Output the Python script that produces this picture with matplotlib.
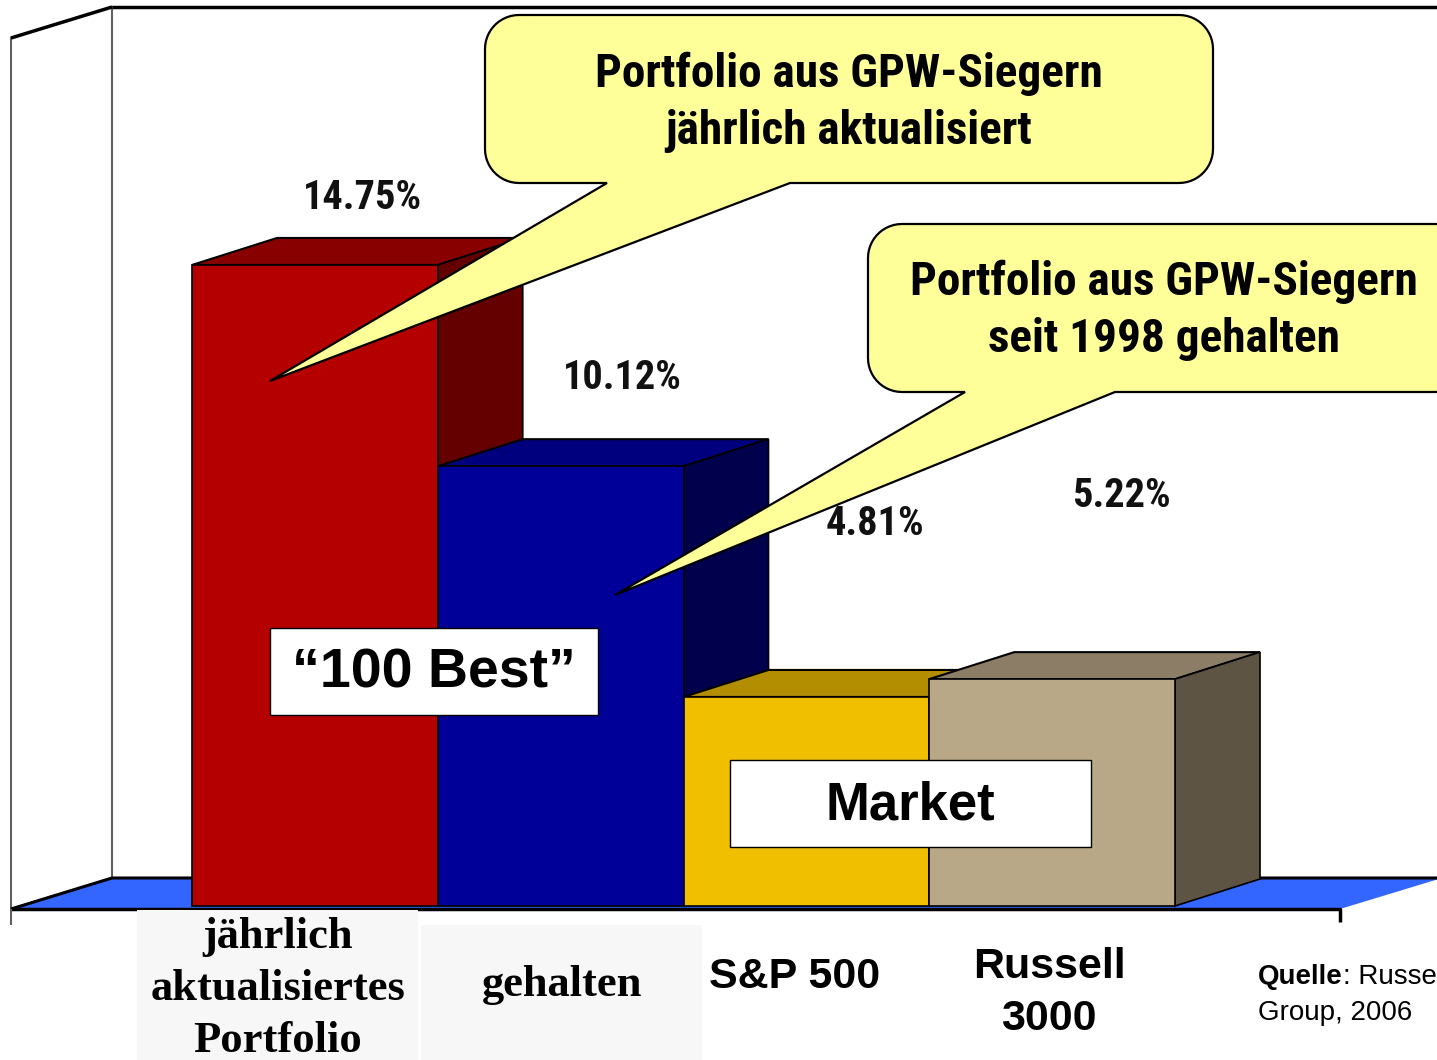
"""
Faux-3D bar chart: annual return of GPW winner portfolios vs. market indices.
"""

import matplotlib
matplotlib.use("Agg")
import matplotlib.pyplot as plt
import matplotlib.transforms as mtransforms
from matplotlib import font_manager
from matplotlib.patches import Polygon, Rectangle
import numpy as np

# ── Data ──
categories = ["jährlich\naktualisiertes\nPortfolio", "gehalten", "S&P 500", "Russell\n3000"]
returns_pct = [14.75, 10.12, 4.81, 5.22]
front_colors = ["#B50000", "#000099", "#F0BF00", "#B8A888"]
top_colors = ["#880000", "#00007E", "#B38E00", "#8C7E66"]
side_colors = ["#640000", "#00004C", "#8A6D00", "#5E5444"]

callout_texts = ["Portfolio aus GPW-Siegern\njährlich aktualisiert",
                 "Portfolio aus GPW-Siegern\nseit 1998 gehalten"]
group_labels = ["\u201c100 Best\u201d", "Market"]

# ── Geometry (pixels) ──
W, H = 1437, 1060
BAR_LEFT_PX = 192
BAR_W_PX = 245.75
BASE_PX = 906
PCT_PX = 43.46
DEPTH_PX = (85, 27)

SANS = ["Liberation Sans", "DejaVu Sans"]
SERIF = ["Liberation Serif", "DejaVu Serif"]

# ── Pick a narrow bold font if one is installed ──
installed = {f.name for f in font_manager.fontManager.ttflist}
narrow_kw = None
for name in ["Liberation Sans Narrow", "Arial Narrow", "Roboto Condensed", "Open Sans Condensed"]:
    if name in installed:
        narrow_kw = dict(family=[name, "DejaVu Sans"], scale=1.0)
        break
if narrow_kw is None:
    has_djv_cond = any(f.name == "DejaVu Sans" and f.stretch == "condensed"
                       for f in font_manager.fontManager.ttflist)
    if has_djv_cond:
        narrow_kw = dict(family=["DejaVu Sans"], stretch="condensed", scale=0.86)
    else:
        narrow_kw = dict(family=SANS, scale=0.86)


def narrow_text(x, y, s, size, **kw):
    extra = {"fontstretch": narrow_kw["stretch"]} if "stretch" in narrow_kw else {}
    return ax.text(x, y, s, transform=PX, family=narrow_kw["family"],
                   fontsize=size * narrow_kw["scale"], fontweight="bold", **extra, **kw)


fig = plt.figure(figsize=(W / 100, H / 100), dpi=100)
fig.patch.set_facecolor("white")
ax = fig.add_axes([0, 0, 1, 1])
ax.set_xlim(-0.5 - BAR_LEFT_PX / BAR_W_PX, -0.5 + (W - BAR_LEFT_PX) / BAR_W_PX)
ax.set_ylim(-(H - BASE_PX) / PCT_PX, BASE_PX / PCT_PX)
ax.axis("off")

# pixel coordinates measured from the top-left corner
PX = mtransforms.Affine2D().scale(1, -1).translate(0, H)


def px_poly(pts, **kw):
    p = Polygon(pts, closed=True, transform=PX, clip_on=False, **kw)
    ax.add_patch(p)
    return p


def px_line(xs, ys, **kw):
    ax.plot(xs, ys, transform=PX, clip_on=False, solid_capstyle="butt", **kw)


# ── Walls and floor ──
px_poly([(11, 909), (11, 38), (112, 7), (112, 878)], facecolor="white",
        edgecolor="#606060", lw=1.5, zorder=1)
px_line([112, W + 5], [7, 7], color="black", lw=2.5, zorder=1.5)
px_line([11, 112], [38, 7], color="black", lw=2.5, zorder=1.5)
px_poly([(11, 909), (112, 878), (W + 5, 878), (1340, 909)], facecolor="#3366FF",
        edgecolor="none", zorder=1.2)
px_line([11, 112, W + 5], [909, 878, 878], color="black", lw=2.2, zorder=1.5)
px_line([11, 1340, 1340], [909, 909, 922], color="black", lw=2.5, zorder=1.5)
px_line([11, 11], [909, 925], color="#606060", lw=1.5, zorder=1.5)

# ── Bars ──
x = np.arange(len(returns_pct))
dx = DEPTH_PX[0] / BAR_W_PX
dy = DEPTH_PX[1] / PCT_PX
bars = ax.bar(x, returns_pct, width=1.0, color=front_colors,
              edgecolor="black", linewidth=1.2)
for i, (rect, v) in enumerate(zip(bars, returns_pct)):
    z = 3 + i
    rect.set_zorder(z + 0.5)
    l, r = x[i] - 0.5, x[i] + 0.5
    ax.add_patch(Polygon([(l, v), (r, v), (r + dx, v + dy), (l + dx, v + dy)],
                         facecolor=top_colors[i], edgecolor="black", lw=1.5, zorder=z))
    ax.add_patch(Polygon([(r, 0), (r, v), (r + dx, v + dy), (r + dx, dy)],
                         facecolor=side_colors[i], edgecolor="black", lw=1.2, zorder=z))

# ── Value labels ──
value_pos = [(363, 198), (622, 378), (875, 524), (1121, 496)]
for v, (lx, ly) in zip(returns_pct, value_pos):
    narrow_text(lx, ly, f"{v:.2f}%", 29, ha="center", va="center",
                color="#111111", zorder=20)


# ── Callouts ──
def callout(x0, y0, x1, y1, base, tip, text, tx, ty, r=34):
    pts = []
    corners = [(x1 - r, y0 + r, -90, 0), (x1 - r, y1 - r, 0, 90),
               (x0 + r, y1 - r, 90, 180), (x0 + r, y0 + r, 180, 270)]
    for k, (cx, cy, a0, a1) in enumerate(corners):
        t = np.radians(np.linspace(a0, a1, 14))
        pts += list(zip(cx + r * np.cos(t), cy + r * np.sin(t)))
        if k == 1:  # bottom edge, going right to left
            pts += [(base[1], y1), tip, (base[0], y1)]
    px_poly(pts, facecolor="#FFFF99", edgecolor="black", lw=1.6, zorder=30)
    narrow_text(tx, ty, text, 34, ha="center", va="center", linespacing=1.38, zorder=31)


callout(485, 15, 1213, 183, (607, 790), (270, 381), callout_texts[0], 849, 102)
callout(868, 224, 1470, 392, (965, 1115), (615, 595), callout_texts[1], 1164, 310)

# ── Group boxes ──
for (bx0, by0, bx1, by1), lab, fs in zip([(270, 628, 598, 715), (730, 760, 1091, 847)],
                                          group_labels, [40, 38]):
    ax.add_patch(Rectangle((bx0, by0), bx1 - bx0, by1 - by0, transform=PX,
                           facecolor="white", edgecolor="black", lw=1, zorder=25))
    ax.text((bx0 + bx1) / 2, (by0 + by1) / 2 + 2, lab, transform=PX, ha="center",
            va="center", fontsize=fs, fontweight="bold", family=SANS, zorder=26)

# ── Category labels ──
ax.add_patch(Rectangle((137, 910), 281, 160, transform=PX, facecolor="#F7F7F7",
                       edgecolor="none", zorder=2, clip_on=False))
ax.add_patch(Rectangle((421, 925), 281, 145, transform=PX, facecolor="#F7F7F7",
                       edgecolor="none", zorder=2, clip_on=False))
ax.text(278, 989, categories[0], transform=PX, ha="center", va="center", fontsize=32,
        fontweight="bold", family=SERIF, linespacing=1.38, zorder=3)
ax.text(562, 985, categories[1], transform=PX, ha="center", va="center", fontsize=32,
        fontweight="bold", family=SERIF, zorder=3)
ax.text(795, 977, categories[2], transform=PX, ha="center", va="center", fontsize=31,
        fontweight="bold", family=SANS, zorder=3)
ax.text(1049, 993, categories[3], transform=PX, ha="center", va="center", fontsize=31,
        fontweight="bold", family=SANS, linespacing=1.4, zorder=3)

# ── Source ──
src = ax.text(1258, 977, "Quelle", transform=PX, ha="left", va="center", fontsize=20,
              fontweight="bold", family=SANS, zorder=3)
ax.annotate(": Russell", xy=(1, 0.5), xycoords=src, ha="left", va="center",
            fontsize=20, family=SANS, zorder=3, annotation_clip=False)
ax.text(1258, 1013, "Group, 2006", transform=PX, ha="left", va="center", fontsize=20,
        family=SANS, zorder=3)

fig.savefig("out.png", dpi=100, facecolor="white")
